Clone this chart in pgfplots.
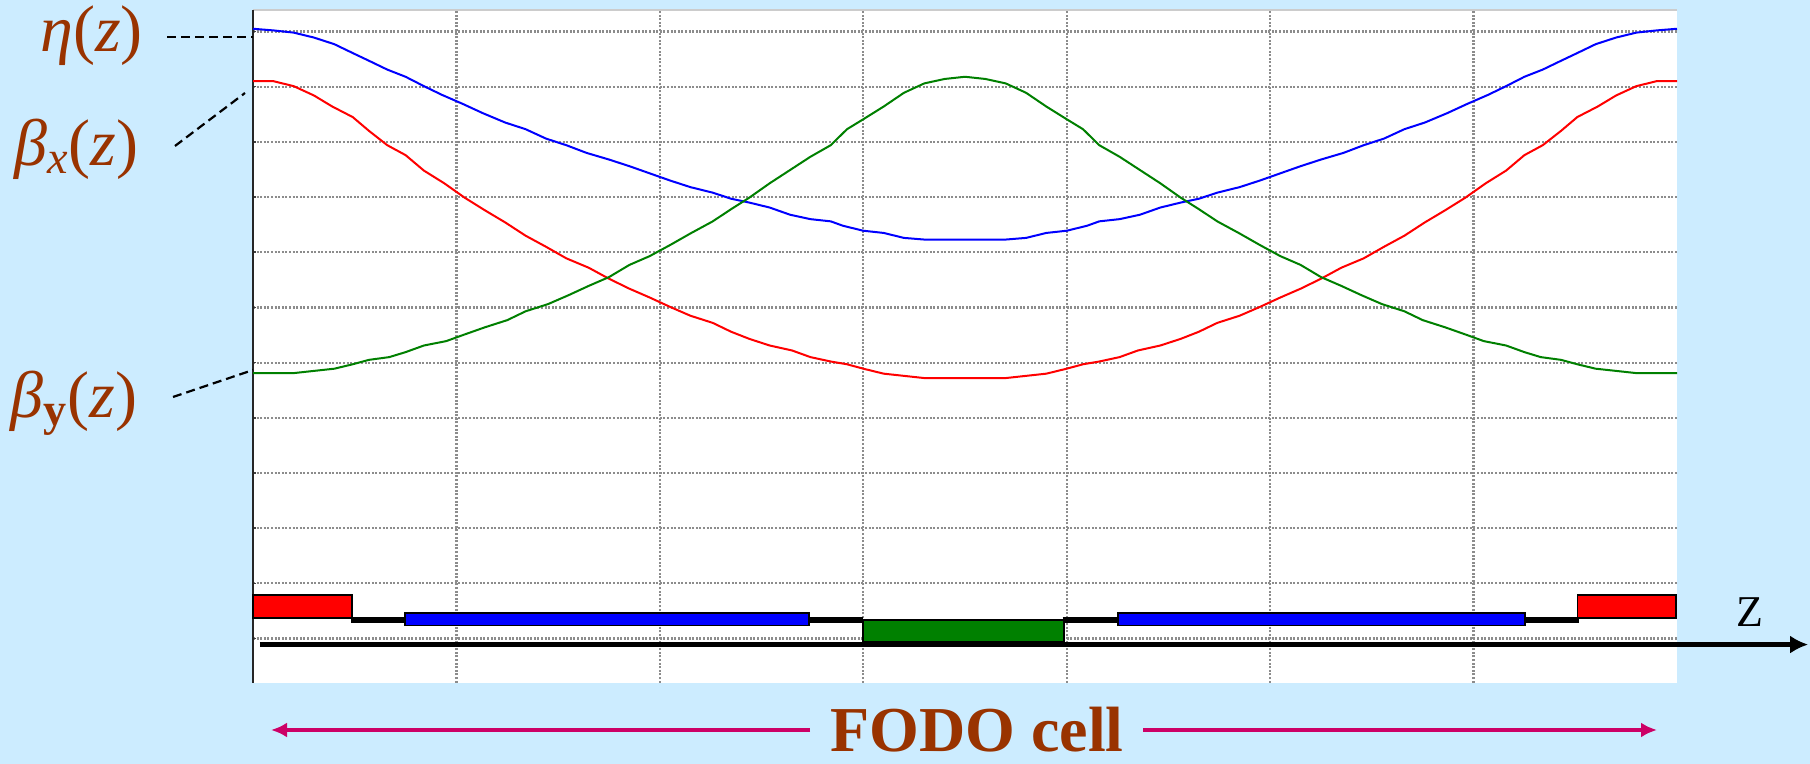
\documentclass[border=0pt]{standalone}
\usepackage{fontspec}
\setmainfont{Liberation Serif}
\usepackage{pgfplots}
\pgfplotsset{compat=1.18}
\usetikzlibrary{arrows.meta}
\definecolor{bg}{RGB}{204,236,255}
\definecolor{brn}{RGB}{153,51,0}
\definecolor{mag}{RGB}{204,0,102}
\definecolor{gr}{RGB}{0,128,0}
\begin{document}
\begin{tikzpicture}[x=0.5pt,y=0.5pt]
\fill[bg] (0,0) rectangle (1810,764);
\useasboundingbox (0,0) rectangle (1810,764);
\begin{axis}[
  at={(126.5pt,40.65pt)}, anchor=south west,
  scale only axis, width=712pt, height=336.35pt,
  xmin=0, xmax=7, ymin=-0.80, ymax=11.39,
  xtick={1,...,6}, ytick={0,...,11},
  xticklabels={}, yticklabels={},
  major tick length=1.5pt, tick align=inside, tick pos=left,
  xtick style={draw=none},
  ytick style={draw=gray!50!black, line width=0.8pt},
  grid=major,
  grid style={draw=gray!90, line width=1.1pt, dash pattern=on 1pt off 0.8pt},
  axis line style={draw=none},
  axis background/.style={fill=white},
  clip=false,
]
% frame
\draw[gray!40, line width=0.7pt] (rel axis cs:0,1) -- (rel axis cs:1,1);
\draw[black!85, line width=0.7pt] (rel axis cs:0,0) -- (rel axis cs:0,1);
% eta (blue)
\addplot[blue, line width=1pt] coordinates {
(0,11.05)(0.10,11.02)(0.20,10.98)(0.30,10.89)(0.40,10.77)(0.49,10.61)(0.57,10.47)(0.66,10.31)(0.75,10.18)(0.84,10.01)(0.93,9.85)(1.03,9.69)(1.13,9.52)(1.24,9.35)(1.34,9.23)(1.44,9.06)(1.54,8.94)(1.64,8.80)(1.75,8.68)(1.85,8.56)(1.95,8.43)(2.05,8.30)(2.15,8.18)(2.26,8.08)(2.35,7.97)(2.44,7.90)(2.54,7.81)(2.64,7.68)(2.74,7.60)(2.84,7.56)(2.90,7.48)(3.00,7.39)(3.10,7.35)(3.20,7.26)(3.30,7.23)
(3.70,7.23)(3.80,7.26)(3.90,7.35)(4.00,7.39)(4.10,7.48)(4.16,7.56)(4.26,7.60)(4.36,7.68)(4.46,7.81)(4.56,7.90)(4.65,7.97)(4.74,8.08)(4.85,8.18)(4.95,8.30)(5.05,8.43)(5.15,8.56)(5.25,8.68)(5.36,8.80)(5.46,8.94)(5.56,9.06)(5.66,9.23)(5.76,9.35)(5.87,9.52)(5.97,9.69)(6.07,9.85)(6.16,10.01)(6.25,10.18)(6.34,10.31)(6.43,10.47)(6.51,10.61)(6.60,10.77)(6.70,10.89)(6.80,10.98)(6.90,11.02)(7.00,11.05)};
% beta_x (red)
\addplot[red, line width=1pt] coordinates {
(0,10.10)(0.10,10.10)(0.20,10.01)(0.30,9.84)(0.39,9.64)(0.49,9.45)(0.57,9.20)(0.66,8.94)(0.75,8.76)(0.84,8.48)(0.94,8.25)(1.04,7.99)(1.14,7.76)(1.24,7.54)(1.34,7.30)(1.44,7.10)(1.54,6.89)(1.65,6.72)(1.75,6.52)(1.85,6.34)(1.95,6.18)(2.05,6.01)(2.15,5.85)(2.26,5.72)(2.35,5.56)(2.44,5.43)(2.54,5.31)(2.65,5.22)(2.74,5.10)(2.84,5.02)(2.92,4.97)(3.00,4.89)(3.10,4.80)(3.20,4.76)(3.30,4.72)
(3.70,4.72)(3.80,4.76)(3.90,4.80)(4.00,4.89)(4.08,4.97)(4.16,5.02)(4.26,5.10)(4.35,5.22)(4.46,5.31)(4.56,5.43)(4.65,5.56)(4.74,5.72)(4.85,5.85)(4.95,6.01)(5.05,6.18)(5.15,6.34)(5.25,6.52)(5.35,6.72)(5.46,6.89)(5.56,7.10)(5.66,7.30)(5.76,7.54)(5.86,7.76)(5.96,7.99)(6.06,8.25)(6.16,8.48)(6.25,8.76)(6.34,8.94)(6.43,9.20)(6.51,9.45)(6.61,9.64)(6.70,9.84)(6.80,10.01)(6.90,10.10)(7.00,10.10)};
% beta_y (green)
\addplot[gr, line width=1pt] coordinates {
(0,4.81)(0.20,4.81)(0.30,4.85)(0.40,4.89)(0.49,4.97)(0.57,5.05)(0.67,5.10)(0.75,5.19)(0.84,5.31)(0.95,5.39)(1.04,5.51)(1.14,5.64)(1.25,5.77)(1.34,5.93)(1.45,6.06)(1.55,6.22)(1.65,6.39)(1.75,6.55)(1.85,6.77)(1.95,6.93)(2.05,7.13)(2.15,7.34)(2.26,7.56)(2.35,7.78)(2.44,7.99)(2.54,8.25)(2.64,8.49)(2.74,8.73)(2.84,8.94)(2.92,9.23)(3.00,9.41)(3.10,9.64)(3.20,9.89)(3.30,10.06)(3.40,10.14)(3.50,10.18)
(3.60,10.14)(3.70,10.06)(3.80,9.89)(3.90,9.64)(4.00,9.41)(4.08,9.23)(4.16,8.94)(4.26,8.73)(4.36,8.49)(4.46,8.25)(4.56,7.99)(4.65,7.78)(4.74,7.56)(4.85,7.34)(4.95,7.13)(5.05,6.93)(5.15,6.77)(5.25,6.55)(5.35,6.39)(5.45,6.22)(5.55,6.06)(5.66,5.93)(5.75,5.77)(5.86,5.64)(5.96,5.51)(6.05,5.39)(6.16,5.31)(6.25,5.19)(6.33,5.10)(6.43,5.05)(6.51,4.97)(6.60,4.89)(6.70,4.85)(6.80,4.81)(7.00,4.81)};
% drift spaces
\addplot[black, line width=3pt] coordinates {(0.48,0.335)(0.75,0.335)};
\addplot[black, line width=3pt] coordinates {(2.73,0.335)(3.00,0.335)};
\addplot[black, line width=3pt] coordinates {(3.98,0.335)(4.26,0.335)};
\addplot[black, line width=3pt] coordinates {(6.25,0.335)(6.52,0.335)};
% z axis
\addplot[black, line width=2.8pt, -{Latex[length=9pt,width=9pt]}] coordinates {(0.032,-0.109)(7.645,-0.109)};
% magnets
\addplot[fill=red, draw=black, line width=0.8pt] coordinates {(0,0.377)(0.487,0.377)(0.487,0.793)(0,0.793)} -- cycle;
\addplot[fill=blue, draw=black, line width=0.8pt] coordinates {(0.747,0.239)(2.733,0.239)(2.733,0.467)(0.747,0.467)} -- cycle;
\addplot[fill=gr, draw=black, line width=0.8pt] coordinates {(2.999,-0.058)(3.987,-0.058)(3.987,0.335)(2.999,0.335)} -- cycle;
\addplot[fill=blue, draw=black, line width=0.8pt] coordinates {(4.253,0.239)(6.254,0.239)(6.254,0.467)(4.253,0.467)} -- cycle;
\addplot[fill=red, draw=black, line width=0.8pt] coordinates {(6.511,0.377)(6.996,0.377)(6.996,0.793)(6.511,0.793)} -- cycle;
\end{axis}
% leader lines
\draw[black, line width=1.1pt, dash pattern=on 4.5pt off 2.5pt] (167,727) -- (253,727);
\draw[black, line width=1.1pt, dash pattern=on 4.5pt off 2.5pt] (175,618) -- (245,671);
\draw[black, line width=1.1pt, dash pattern=on 4.5pt off 2.5pt] (173,367) -- (253,394);
% labels
\node[anchor=base west, inner sep=0pt, text=brn, font=\fontsize{33}{33}\selectfont] at (40,712) {\textit{η}(\textit{z})};
\node[anchor=base west, inner sep=0pt, text=brn, font=\fontsize{33}{33}\selectfont] at (14,598) {\textit{β}\textsubscript{\textit{x}}(\textit{z})};
\node[anchor=base west, inner sep=0pt, text=brn, font=\fontsize{33}{33}\selectfont] at (10,346) {\textit{β}\textsubscript{\textbf{y}}(\textit{z})};
\node[inner sep=0pt, font=\fontsize{22}{22}\selectfont] at (1750,152) {Z};
% FODO cell
\draw[mag, line width=2pt, -{Latex[length=8pt,width=7.5pt]}] (810,34) -- (271,34);
\draw[mag, line width=2pt, -{Latex[length=8pt,width=7.5pt]}] (1143,34) -- (1657,34);
\node[anchor=base, inner sep=0pt, text=brn, font=\fontsize{32}{32}\selectfont\bfseries] at (977,12) {FODO cell};
\end{tikzpicture}
\end{document}
